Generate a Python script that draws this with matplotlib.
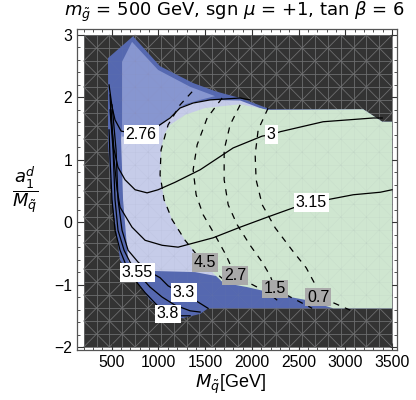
import numpy as np
import matplotlib
matplotlib.use("Agg")
import matplotlib.pyplot as plt
from matplotlib.collections import LineCollection
from matplotlib.patches import Polygon, Rectangle
from matplotlib.ticker import MultipleLocator

plt.rcParams["font.family"] = ["Liberation Sans", "DejaVu Sans"]
plt.rcParams["mathtext.fontset"] = "dejavusans"

# plot range (M_sq in GeV, a1d / M_sq)
x_range = [200, 3500]
y_range = [-2, 3]

# allowed region, outer envelope (dark blue)
outer_x = [728, 1017, 1371, 1628, 1874, 2196, 3192, 3395, 3500, 3500, 1531, 1446, 1253, 1071, 910, 750, 589, 503, 460, 460]
outer_y = [2.98, 2.50, 2.23, 2.09, 1.99, 1.81, 1.81, 1.61, 1.61, -1.38, -1.38, -1.47, -1.54, -1.44, -1.25, -0.93, -0.61, 0.36, 1.24, 2.63]

# lavender interior
lav_x = [610, 985, 1124, 1231, 1371, 1553, 1874, 2174, 2088, 1874, 1606, 1392, 910, 717, 675, 621, 600]
lav_y = [1.50, 1.55, 1.69, 1.84, 1.92, 1.96, 1.95, 1.78, 0.36, -0.77, -0.86, -0.80, -0.78, -0.73, -0.61, 0.36, 1.32]

# medium blue top part
mid_x = [610, 717, 996, 1339, 1606, 1446, 1285, 1178, 1071, 985, 803, 610]
mid_y = [2.57, 2.89, 2.44, 2.17, 2.02, 1.96, 1.89, 1.77, 1.61, 1.51, 1.41, 1.37]

# green region
green_x = [1124, 1285, 1499, 1874, 2174, 3192, 3395, 3500, 3500, 2870, 2592, 2410, 1949, 1692, 1574, 1414, 1285, 1146, 1060, 1017, 1028, 1060]
green_y = [1.56, 1.72, 1.83, 1.89, 1.80, 1.81, 1.61, 1.61, -1.38, -1.38, -1.25, -1.20, -1.04, -0.97, -0.80, -0.53, -0.29, 0.04, 0.36, 0.76, 1.16, 1.40]

# solid contours
c276_x = [471, 503, 535, 600, 814, 985, 1124, 1231, 1371, 1553, 1874, 1981]
c276_y = [2.20, 1.85, 1.64, 1.46, 1.40, 1.53, 1.67, 1.83, 1.91, 1.96, 1.99, 1.96]
c3_x = [482, 493, 525, 567, 642, 750, 878, 996, 1178, 1446, 1799, 2110, 2206, 2303, 2763, 3299, 3395]
c3_y = [2.04, 1.64, 1.16, 0.88, 0.68, 0.52, 0.47, 0.52, 0.64, 0.84, 1.19, 1.38, 1.40, 1.45, 1.61, 1.67, 1.67]
c315_x = [493, 525, 557, 589, 717, 857, 1039, 1210, 1585, 1874, 2163, 2442, 2635, 2806, 3085, 3374, 3500]
c315_y = [1.80, 1.00, 0.52, 0.24, -0.08, -0.29, -0.37, -0.40, -0.25, -0.08, 0.08, 0.23, 0.31, 0.36, 0.44, 0.48, 0.52]
c33_x = [503, 546, 567, 610, 675, 782, 910, 1017, 1103, 1189, 1274, 1392, 1531]
c33_y = [1.88, 1.16, 0.36, -0.13, -0.45, -0.64, -0.80, -0.89, -1.02, -1.09, -1.12, -1.25, -1.38]
c355_x = [482, 514, 535, 567, 632, 696, 771, 910, 1039, 1178, 1339, 1446]
c355_y = [1.80, 1.16, 0.36, -0.13, -0.45, -0.64, -0.81, -1.04, -1.20, -1.33, -1.42, -1.44]
c38_x = [471, 482, 503, 535, 589, 653, 750, 857, 985, 1103, 1231, 1339]
c38_y = [1.48, 1.00, 0.36, -0.13, -0.45, -0.69, -0.93, -1.13, -1.33, -1.47, -1.50, -1.50]

# dashed contours
d45_x = [1360, 1231, 1103, 1028, 1017, 1060, 1146, 1285, 1414, 1499, 1606, 1681]
d45_y = [2.09, 1.88, 1.56, 1.16, 0.76, 0.36, 0.04, -0.29, -0.53, -0.65, -0.80, -0.90]
d27_x = [1681, 1521, 1414, 1371, 1403, 1478, 1606, 1724, 1821, 1928, 2056, 2174, 2271]
d27_y = [1.99, 1.67, 1.24, 0.84, 0.44, 0.12, -0.21, -0.53, -0.86, -0.94, -1.04, -1.13, -1.25]
d15_x = [1874, 1767, 1703, 1703, 1746, 1842, 1981, 2110, 2196, 2249, 2388, 2517, 2645]
d15_y = [1.88, 1.56, 1.16, 0.68, 0.28, -0.04, -0.37, -0.64, -0.86, -1.07, -1.18, -1.28, -1.38]
d07_x = [2174, 2067, 2035, 2045, 2110, 2249, 2431, 2581, 2667, 2710, 2870, 3052]
d07_y = [1.83, 1.48, 1.08, 0.68, 0.28, -0.09, -0.45, -0.73, -0.97, -1.20, -1.29, -1.41]

# contour labels
solid_labels = ["2.76", "3", "3.15", "3.55", "3.3", "3.8"]
solid_lab_x = [814, 2206, 2635, 771, 1274, 1103]
solid_lab_y = [1.40, 1.40, 0.31, -0.81, -1.12, -1.47]
dash_labels = ["4.5", "2.7", "1.5", "0.7"]
dash_lab_x = [1499, 1821, 2249, 2710]
dash_lab_y = [-0.65, -0.86, -1.07, -1.20]


def mesh_segments(n=24):
	xs = np.linspace(x_range[0], x_range[1], n + 1)
	ys = np.linspace(y_range[0], y_range[1], n + 1)
	segs = []
	for x in xs:
		segs.append([(x, ys[0]), (x, ys[-1])])
	for y in ys:
		segs.append([(xs[0], y), (xs[-1], y)])
	for i in range(n):
		for j in range(n):
			if (i + j) % 2 == 0:
				segs.append([(xs[i], ys[j]), (xs[i + 1], ys[j + 1])])
			else:
				segs.append([(xs[i], ys[j + 1]), (xs[i + 1], ys[j])])
	return segs


fig = plt.figure(figsize=(4.16, 4.0), dpi=100)
ax = fig.add_axes([77/416, 50/400, 320/416, 321/400])

ax.add_patch(Rectangle((x_range[0], y_range[0]), x_range[1]-x_range[0], y_range[1]-y_range[0],
	fc="#333333", ec="none", zorder=0))
segs = mesh_segments()
ax.add_collection(LineCollection(segs, colors="#6a6a6a", linewidths=0.6, zorder=1))

ax.add_patch(Polygon(np.column_stack([outer_x, outer_y]), fc="#5568b0", ec="none", zorder=2))
ax.add_patch(Polygon(np.column_stack([lav_x, lav_y]), fc="#c6cce9", ec="none", zorder=3))
ax.add_patch(Polygon(np.column_stack([mid_x, mid_y]), fc="#8796d0", ec="none", zorder=4))
ax.add_patch(Polygon(np.column_stack([green_x, green_y]), fc="#cfe6d0", ec="none", zorder=5))

ax.add_collection(LineCollection(segs, colors="#8890a0", linewidths=0.5, alpha=0.07, zorder=6))

for xs, ys in [(d45_x, d45_y), (d27_x, d27_y), (d15_x, d15_y), (d07_x, d07_y)]:
	ax.plot(xs, ys, color="black", lw=0.9, ls=(0, (5, 5)), zorder=7)
for xs, ys in [(c276_x, c276_y), (c3_x, c3_y), (c315_x, c315_y), (c33_x, c33_y), (c355_x, c355_y), (c38_x, c38_y)]:
	ax.plot(xs, ys, color="black", lw=0.9, zorder=8)

for t, x, y in zip(solid_labels, solid_lab_x, solid_lab_y):
	ax.text(x, y, t, fontsize=11.5, ha="center", va="center", zorder=9,
		bbox=dict(boxstyle="square,pad=0.12", fc="white", ec="none"))
for t, x, y in zip(dash_labels, dash_lab_x, dash_lab_y):
	ax.text(x, y, t, fontsize=11.5, ha="center", va="center", zorder=9,
		bbox=dict(boxstyle="square,pad=0.12", fc="#aaaaaa", ec="none"))

ax.set_xlim(128, 3553)
ax.set_ylim(-2.048, 3.096)
ax.set_xticks([500, 1000, 1500, 2000, 2500, 3000, 3500])
ax.set_yticks([-2, -1, 0, 1, 2, 3])
ax.xaxis.set_minor_locator(MultipleLocator(100))
ax.yaxis.set_minor_locator(MultipleLocator(0.2))
ax.tick_params(which="both", direction="in", top=True, right=True, labelsize=11.3, color="#333333")
ax.tick_params(which="major", length=5, width=0.8)
ax.tick_params(which="minor", length=2.5, width=0.6)
for s in ax.spines.values():
	s.set_color("#555555")
	s.set_linewidth(0.9)

fig.text(234/416, 1-12/400, r"$m_{\tilde{g}}$ = 500 GeV, sgn $\mu$ = +1, tan $\beta$ = 6",
	fontsize=13.0, family="DejaVu Sans", ha="center", va="center")
fig.text(230/416, 1-384/400, r"$M_{\tilde{q}}$[GeV]", fontsize=13, ha="center", va="center")
fig.text(25/416, 1-190/400, r"$\dfrac{a_1^d}{M_{\tilde{q}}}$", fontsize=13, ha="center", va="center")

fig.savefig("out.png", dpi=100)
